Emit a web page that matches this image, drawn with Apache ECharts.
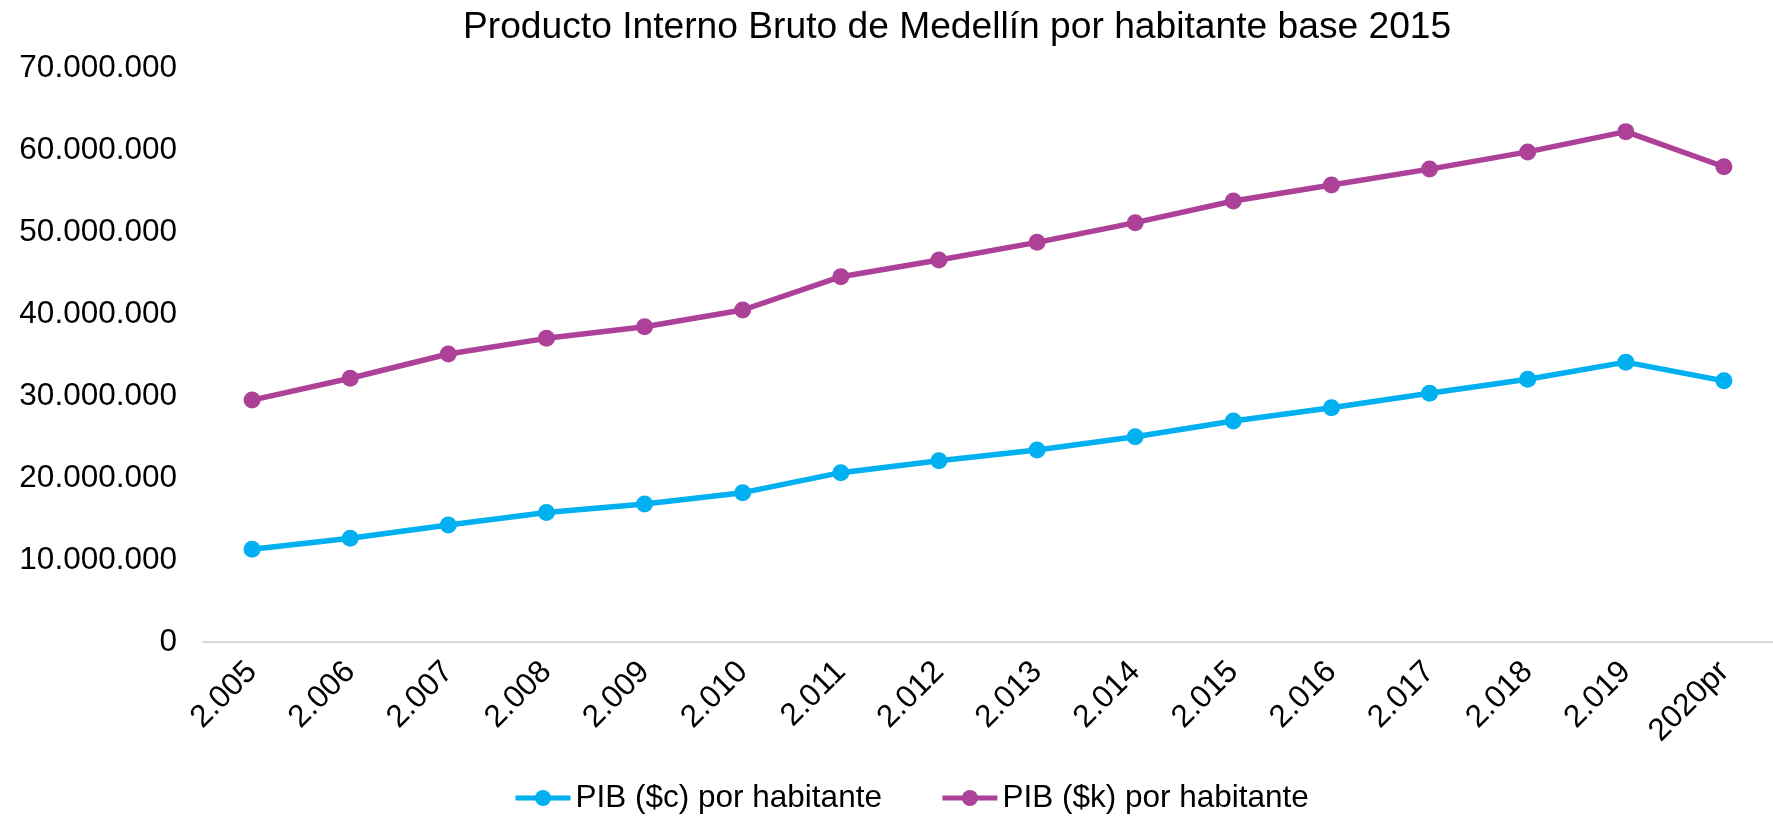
<!DOCTYPE html>
<html>
<head>
<meta charset="utf-8">
<script src="https://cdn.jsdelivr.net/npm/echarts@6/dist/echarts.min.js"></script>
<style>
html,body{margin:0;padding:0;background:#fff;}
#chart{width:1773px;height:819px;}
</style>
</head>
<body>
<div id="chart"></div>
<script>
const categories = ['2.005','2.006','2.007','2.008','2.009','2.010','2.011','2.012','2.013','2.014','2.015','2.016','2.017','2.018','2.019','2020pr'];
const pibCorrientes = [11300000,12650000,14270000,15800000,16830000,18210000,20650000,22110000,23410000,25040000,26950000,28570000,30330000,32040000,34130000,31850000];
const pibConstantes = [29500000,32160000,35120000,37030000,38450000,40490000,44550000,46590000,48740000,51140000,53780000,55740000,57670000,59770000,62240000,57960000];
const seriesNames = ['PIB ($c) por habitante','PIB ($k) por habitante'];
const titleText = 'Producto Interno Bruto de Medellín por habitante base 2015';

const FONT = "'Liberation Sans', Arial, sans-serif";
function fmt(v){ return String(Math.round(v)).replace(/\B(?=(\d{3})+(?!\d))/g,'.'); }

const chart = echarts.init(document.getElementById('chart'), null, {renderer:'canvas'});
chart.setOption({
  backgroundColor:'#ffffff',
  animation:false,
  title:{
    text:titleText,
    left:463, top:9, padding:0,
    textStyle:{fontFamily:FONT,fontSize:37.2,fontWeight:'normal',color:'#000'}
  },
  legend:{
    data:seriesNames,
    left:513, top:782, padding:0,
    itemWidth:55, itemHeight:20, itemGap:58,
    lineStyle:{width:5},
    textStyle:{fontFamily:FONT,fontSize:31.5,color:'#000',padding:[0,0,0,0]}
  },
  grid:{left:203, top:68, width:1582, bottom:177, containLabel:false},
  xAxis:{
    type:'category',
    data:categories,
    boundaryGap:true,
    axisLine:{lineStyle:{color:'#D9D9D9',width:2}},
    axisTick:{show:false},
    axisLabel:{rotate:45, margin:25, fontFamily:FONT, fontSize:31.5, color:'#000', interval:0}
  },
  yAxis:{
    type:'value',
    min:0, max:70000000, interval:10000000,
    axisLine:{show:false},
    axisTick:{show:false},
    splitLine:{show:false},
    axisLabel:{margin:26, padding:[13,0,0,0], fontFamily:FONT, fontSize:31.5, color:'#000', formatter:fmt}
  },
  series:[
    {name:seriesNames[0], type:'line', data:pibCorrientes, symbol:'circle', symbolSize:17,
     lineStyle:{color:'#00B0F0',width:5.5}, itemStyle:{color:'#00B0F0'}},
    {name:seriesNames[1], type:'line', data:pibConstantes, symbol:'circle', symbolSize:17,
     lineStyle:{color:'#AD4197',width:5.5}, itemStyle:{color:'#AD4197'}}
  ]
});
</script>
</body>
</html>
